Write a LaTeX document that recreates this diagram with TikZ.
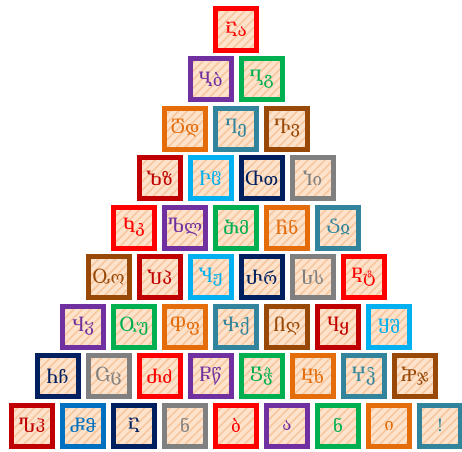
\documentclass[tikz,border=0pt]{standalone}
\usepackage{fontspec}
\newfontfamily\geo[Script=Georgian]{DejaVu Serif}
\usetikzlibrary{patterns.meta}
\definecolor{cRed}{HTML}{FF0000}
\definecolor{cPurple}{HTML}{7030A0}
\definecolor{cGreen}{HTML}{00B050}
\definecolor{cOrange}{HTML}{E46C0A}
\definecolor{cTeal}{HTML}{31849B}
\definecolor{cBrown}{HTML}{984807}
\definecolor{cDRed}{HTML}{C00000}
\definecolor{cLBlue}{HTML}{00B0F0}
\definecolor{cNavy}{HTML}{002060}
\definecolor{cGray}{HTML}{808080}
\definecolor{cBlue}{HTML}{0070C0}
\definecolor{peach}{HTML}{FDE3CC}
\definecolor{stripe}{HTML}{F7C79F}
\begin{document}
\begin{tikzpicture}[x=1pt,y=1pt,
  tile/.style={draw=#1, line width=5pt, minimum size=41pt, inner sep=0pt,
    text=#1, font=\geo\fontsize{17}{17}\selectfont,
    preaction={fill=peach},
    pattern={Lines[angle=45,distance=6pt,line width=1.6pt]}, pattern color=stripe}]
\useasboundingbox (0,0) rectangle (462,451);
\foreach \r/\i/\c/\t in {
  1/1/cRed/Ⴀა,
  2/1/cPurple/Ⴁბ, 2/2/cGreen/Ⴂგ,
  3/1/cOrange/Ⴃდ, 3/2/cTeal/Ⴄე, 3/3/cBrown/Ⴅვ,
  4/1/cDRed/Ⴆზ, 4/2/cLBlue/Ⴡჱ, 4/3/cNavy/Ⴇთ, 4/4/cGray/Ⴈი,
  5/1/cRed/Ⴉკ, 5/2/cPurple/Ⴊლ, 5/3/cGreen/Ⴋმ, 5/4/cOrange/Ⴌნ, 5/5/cTeal/Ⴢჲ,
  6/1/cBrown/Ⴍო, 6/2/cDRed/Ⴎპ, 6/3/cLBlue/Ⴏჟ, 6/4/cNavy/Ⴐრ, 6/5/cGray/Ⴑს, 6/6/cRed/Ⴒტ,
  7/1/cPurple/Ⴣჳ, 7/2/cGreen/Ⴓუ, 7/3/cOrange/Ⴔფ, 7/4/cTeal/Ⴕქ, 7/5/cBrown/Ⴖღ, 7/6/cDRed/Ⴗყ, 7/7/cLBlue/Ⴘშ,
  8/1/cNavy/Ⴙჩ, 8/2/cGray/Ⴚც, 8/3/cRed/Ⴛძ, 8/4/cPurple/Ⴜწ, 8/5/cGreen/Ⴝჭ, 8/6/cOrange/Ⴞხ, 8/7/cTeal/Ⴤჴ, 8/8/cBrown/Ⴟჯ,
  9/1/cDRed/Ⴠჰ, 9/2/cBlue/Ⴥჵ, 9/3/cNavy/Ⴀ, 9/4/cGray/ნ, 9/5/cRed/ბ, 9/6/cPurple/ა, 9/7/cGreen/ნ, 9/8/cOrange/ი, 9/9/cTeal/!}{
  \node[tile=\c] (b\r-\i) at ({236+(\i-(\r+1)/2)*51},{421.5-(\r-1)*49.5}) {\t};
}
\end{tikzpicture}
\end{document}
